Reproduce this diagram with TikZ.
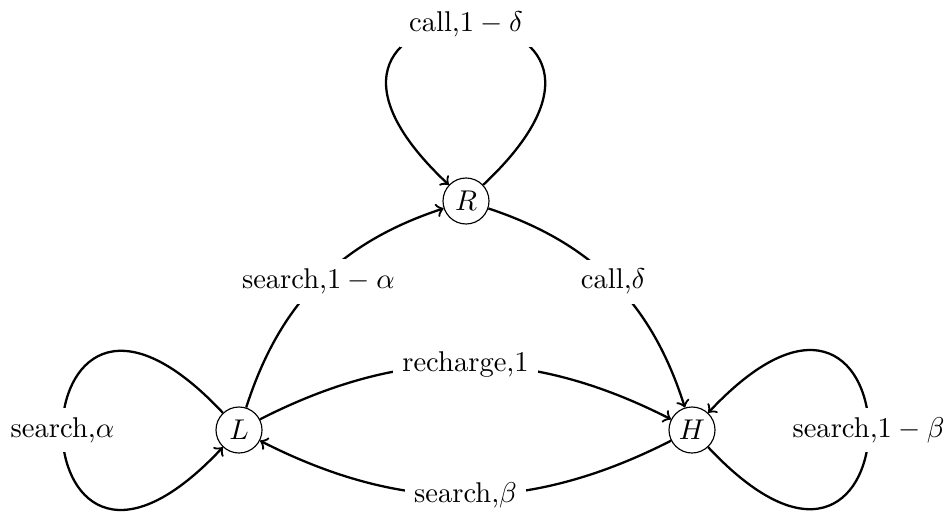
\documentclass[tikz,border=0pt]{standalone}
\begin{document}
\begin{tikzpicture}[x=0.35pt,y=-0.35pt,
  state/.style={circle,draw,thin,minimum size=16.1pt,inner sep=0pt},
  edgeline/.style={->,thick},
  lbl/.style={fill=white,inner sep=3.33pt}]
\useasboundingbox (0,0) rectangle (949,513);
\node[state] (L) at (239,430) {$L$};
\node[state] (R) at (466,201) {$R$};
\node[state] (H) at (692,430) {$H$};
% loops
\draw[edgeline] (L) .. controls (9,185) and (9,675) .. node[lbl]{search,$\alpha$} (L);
\draw[edgeline] (H) .. controls (922,675) and (922,185) .. node[lbl]{search,$1-\beta$} (H);
\draw[edgeline] (R) .. controls (711,-29) and (221,-29) .. node[lbl]{call,$1-\delta$} (R);
% edges
\draw[edgeline] (L) to[bend left=27] node[lbl]{search,$1-\alpha$} (R);
\draw[edgeline] (R) to[bend left=27] node[lbl]{call,$\delta$} (H);
\draw[edgeline] (L) to[bend left=27] node[lbl]{recharge,1} (H);
\draw[edgeline] (H) to[bend left=27] node[lbl]{search,$\beta$} (L);
\end{tikzpicture}
\end{document}
